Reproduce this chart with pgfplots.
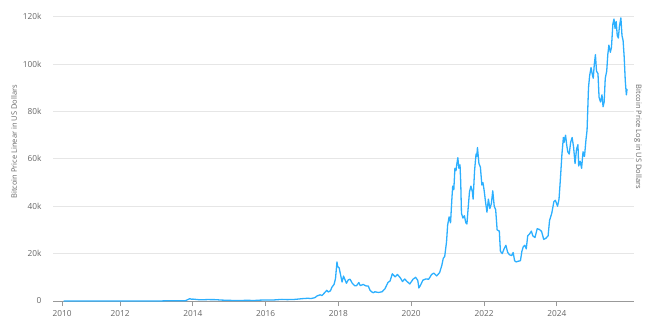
\documentclass[border=0pt]{standalone}
\usepackage{pgfplots}
\pgfplotsset{compat=1.18}
\usepackage{fontspec}
\setmainfont{Open Sans}
\definecolor{btc}{HTML}{2CAFFE}
\definecolor{txt}{HTML}{666666}
\definecolor{gridc}{HTML}{E6E6E6}
\definecolor{axl}{HTML}{999999}
\begin{document}
\begin{tikzpicture}
\begin{axis}[
  name=ax, at={(0,0)}, anchor=south west,
  scale only axis, width=581pt, height=284.3pt,
  xmin=2010.159, xmax=2026.12, ymin=0, ymax=120000,
  axis x line*=bottom, axis y line*=left,
  y axis line style={draw=none},
  x axis line style={axl, line width=0.8pt},
  xtick={2010.407,2012,2014,2016,2018,2020,2022,2024},
  xticklabels={2010,2012,2014,2016,2018,2020,2022,2024},
  ytick={0,20000,40000,60000,80000,100000,120000},
  yticklabels={0,20k,40k,60k,80k,100k,120k},
  scaled y ticks=false, scaled x ticks=false,
  xtick style={axl, line width=0.8pt},
  ytick style={draw=none},
  tick align=outside, major tick length=5pt,
  ymajorgrids, major grid style={gridc, line width=0.8pt},
  tick label style={font=\fontsize{8.3}{10}\selectfont, text=txt},
  yticklabel style={xshift=-3pt},
  xticklabel style={yshift=-1pt},
  /pgf/number format/assume math mode=true,
  clip=false,
]
\addplot[btc, line width=1.3pt, line join=round] table {
2010.45 0.07
2010.7 0.06
2011.0 0.3
2011.3 0.8
2011.45 17
2011.6 13
2011.8 3
2012.0 5
2012.5 7
2012.7 10
2013.0 13
2013.2 50
2013.3 130
2013.6 100
2013.8 150
2013.92 1000
2013.96 750
2014.0 800
2014.1 650
2014.2 500
2014.4 600
2014.6 580
2014.8 380
2015.0 280
2015.1 230
2015.3 240
2015.5 270
2015.7 235
2015.85 370
2016.0 430
2016.2 420
2016.45 680
2016.6 580
2016.8 680
2016.95 900
2017.0 980
2017.15 1150
2017.25 1050
2017.35 1400
2017.42 2200
2017.5 2600
2017.55 2300
2017.62 3500
2017.68 4500
2017.72 3800
2017.78 4300
2017.82 5800
2017.88 7000
2017.92 9500
2017.96 16500
2017.98 14500
2018.02 14000
2018.06 11000
2018.1 8000
2018.14 10500
2018.18 9000
2018.22 7500
2018.27 8900
2018.32 9200
2018.38 7500
2018.45 6400
2018.5 6500
2018.56 7800
2018.6 6500
2018.68 7000
2018.75 6400
2018.82 6300
2018.87 4500
2018.92 3800
2018.96 3500
2019.0 3900
2019.1 3600
2019.2 3900
2019.28 5200
2019.36 7800
2019.42 8500
2019.48 11500
2019.52 10800
2019.56 10200
2019.62 11200
2019.7 9800
2019.76 8200
2019.82 9300
2019.88 8300
2019.96 7200
2020.05 9200
2020.12 10000
2020.18 8700
2020.21 5500
2020.26 6800
2020.32 8800
2020.4 9300
2020.48 9200
2020.56 11200
2020.62 11800
2020.7 10600
2020.78 12000
2020.84 15000
2020.88 18000
2020.92 18800
2020.97 25000
2021.0 32000
2021.04 35500
2021.08 33000
2021.12 44000
2021.14 48500
2021.17 47000
2021.2 56000
2021.23 55000
2021.25 57500
2021.28 60500
2021.31 56000
2021.34 57500
2021.36 50000
2021.38 37000
2021.42 35000
2021.46 36000
2021.5 33000
2021.53 32500
2021.56 38500
2021.6 46000
2021.64 48500
2021.68 46000
2021.7 43000
2021.74 55000
2021.78 62000
2021.8 61000
2021.82 64800
2021.86 58000
2021.9 56500
2021.94 49000
2021.97 50000
2022.0 47000
2022.04 42000
2022.08 37500
2022.12 43000
2022.16 39000
2022.2 41000
2022.24 46500
2022.28 40000
2022.32 38500
2022.36 30000
2022.42 29500
2022.45 21000
2022.5 20000
2022.55 22000
2022.6 23500
2022.65 20500
2022.7 19500
2022.76 19200
2022.8 20500
2022.84 17000
2022.88 16500
2022.94 16800
2023.0 17000
2023.04 21000
2023.08 23000
2023.12 23500
2023.16 22000
2023.2 27500
2023.26 28500
2023.3 29500
2023.34 27500
2023.4 26800
2023.46 30500
2023.52 30200
2023.58 29400
2023.64 26000
2023.7 26500
2023.76 27500
2023.8 34000
2023.86 37000
2023.92 42000
2023.96 42500
2024.02 40000
2024.06 43000
2024.1 52000
2024.14 62000
2024.18 69000
2024.2 67000
2024.24 70000
2024.27 66000
2024.3 63000
2024.34 62000
2024.38 67000
2024.42 69000
2024.46 65000
2024.5 58000
2024.54 64000
2024.58 66000
2024.6 57000
2024.64 59000
2024.68 56000
2024.72 63000
2024.76 61000
2024.8 68000
2024.83 72000
2024.87 90000
2024.9 95000
2024.94 98500
2024.97 96000
2025.0 94000
2025.03 100000
2025.06 104000
2025.09 97000
2025.13 96000
2025.16 86000
2025.2 84000
2025.24 87000
2025.27 82000
2025.3 84000
2025.33 94000
2025.37 97000
2025.4 104000
2025.43 108000
2025.47 105000
2025.5 107000
2025.54 117000
2025.57 119000
2025.6 115000
2025.63 118000
2025.66 112000
2025.69 111000
2025.72 116000
2025.76 119500
2025.79 112000
2025.82 110000
2025.85 103000
2025.88 93000
2025.91 87000
2025.93 89500
};
\end{axis}
\node[rotate=90, font=\fontsize{7.5}{9}\selectfont, text=txt] at ([shift={(-39pt,17pt)}]ax.west) {Bitcoin Price Linear in US Dollars};
\node[rotate=-90, font=\fontsize{7.5}{9}\selectfont, text=txt] at ([shift={(4pt,22pt)}]ax.east) {Bitcoin Price Log in US Dollars};
\pgfresetboundingbox
\path[use as bounding box] (-53pt,-29pt) rectangle (602pt,301pt);
\end{tikzpicture}
\end{document}
